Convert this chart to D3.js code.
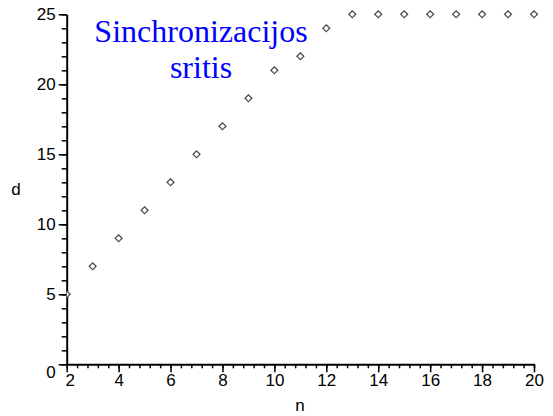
<!DOCTYPE html>
<html>
<head>
<meta charset="utf-8">
<script src="https://cdn.jsdelivr.net/npm/d3@7"></script>
<style>
body { margin: 0; background: #fff; }
.tick text { font-family: "Liberation Sans", Arial, sans-serif; font-size: 17px; fill: #000; }
.axis path, .axis line { stroke: #000; }
</style>
</head>
<body>
<div class="container"></div>
<script>
const WIDTH = 553;
const HEIGHT = 416;

// plot area edges
const LEFT = 66.7, RIGHT = 534, TOP = 14.3, BOTTOM = 364.3;

const nValues = [2, 3, 4, 5, 6, 7, 8, 9, 10, 11, 12, 13, 14, 15, 16, 17, 18, 19, 20];
const dValues = [5, 7, 9, 11, 13, 15, 17, 19, 21, 22, 24, 25, 25, 25, 25, 25, 25, 25, 25];
const xTicks = [2, 4, 6, 8, 10, 12, 14, 16, 18, 20];
const yTicks = [0, 5, 10, 15, 20, 25];
const titleLines = ["Sinchronizacijos", "sritis"];

var svg = d3.select('.container').append('svg')
    .attr('width', WIDTH)
    .attr('height', HEIGHT);

var xScale = d3.scaleLinear().domain([2, 20]).range([LEFT, RIGHT]);
var yScale = d3.scaleLinear().domain([0, 25]).range([BOTTOM, TOP]);

// minor ticks
var xMinor = d3.range(2, 20.001, 0.4);
var yMinor = d3.range(0, 25.001, 1);

svg.append('g')
    .attr('class', 'axis')
    .attr('transform', 'translate(0,' + BOTTOM + ')')
    .call(d3.axisBottom(xScale).tickValues(xMinor).tickSize(4).tickFormat('').tickSizeOuter(0))
    .call(g => g.select('.domain').remove())
    .selectAll('line').attr('stroke-width', 1.5);

svg.append('g')
    .attr('class', 'axis')
    .attr('transform', 'translate(' + LEFT + ',0)')
    .call(d3.axisLeft(yScale).tickValues(yMinor).tickSize(5).tickFormat('').tickSizeOuter(0))
    .call(g => g.select('.domain').remove())
    .selectAll('line').attr('stroke-width', 1.5);

var xAxis = svg.append('g')
    .attr('class', 'axis')
    .attr('transform', 'translate(0,' + BOTTOM + ')')
    .call(d3.axisBottom(xScale).tickValues(xTicks).tickSize(8).tickPadding(2).tickSizeOuter(0));
xAxis.select('.domain').attr('stroke-width', 2);
xAxis.selectAll('.tick line').attr('stroke-width', 1.5);
xAxis.selectAll('.tick text').filter(d => d === 2).attr('dx', 3);

var yAxis = svg.append('g')
    .attr('class', 'axis')
    .attr('transform', 'translate(' + LEFT + ',0)')
    .call(d3.axisLeft(yScale).tickValues(yTicks).tickSize(8).tickPadding(3).tickSizeOuter(0));
yAxis.select('.domain').attr('stroke-width', 2);
yAxis.selectAll('.tick line').attr('stroke-width', 1.5);
yAxis.selectAll('.tick text').filter(d => d === 0).attr('dy', '0.8em');

// axis labels
svg.append('text')
    .attr('x', 16).attr('y', 195)
    .attr('text-anchor', 'middle')
    .style('font-family', '"Liberation Sans", Arial, sans-serif')
    .style('font-size', '17px')
    .text('d');

svg.append('text')
    .attr('x', 300).attr('y', 411)
    .attr('text-anchor', 'middle')
    .style('font-family', '"Liberation Sans", Arial, sans-serif')
    .style('font-size', '17px')
    .text('n');

// points
svg.append('clipPath').attr('id', 'plotClip')
    .append('rect')
    .attr('x', LEFT).attr('y', 0)
    .attr('width', WIDTH - LEFT).attr('height', BOTTOM);

var diamond = d3.symbol().type(d3.symbolSquare).size(24);

svg.append('g')
    .attr('clip-path', 'url(#plotClip)')
    .selectAll('path')
    .data(nValues)
    .enter().append('path')
    .attr('d', diamond)
    .attr('transform', (d, i) => 'translate(' + xScale(d) + ',' + yScale(dValues[i]) + ') rotate(45)')
    .attr('fill', '#fff')
    .attr('stroke', '#444')
    .attr('stroke-width', 1.2);

// title
svg.append('text')
    .attr('x', 201).attr('y', 42)
    .attr('text-anchor', 'middle')
    .style('font-family', '"Liberation Serif", "Times New Roman", serif')
    .style('font-size', '32px')
    .attr('fill', '#0000ff')
    .selectAll('tspan')
    .data(titleLines)
    .enter().append('tspan')
    .attr('x', 201)
    .attr('dy', (d, i) => i === 0 ? 0 : 35.7)
    .text(d => d);
</script>
</body>
</html>
